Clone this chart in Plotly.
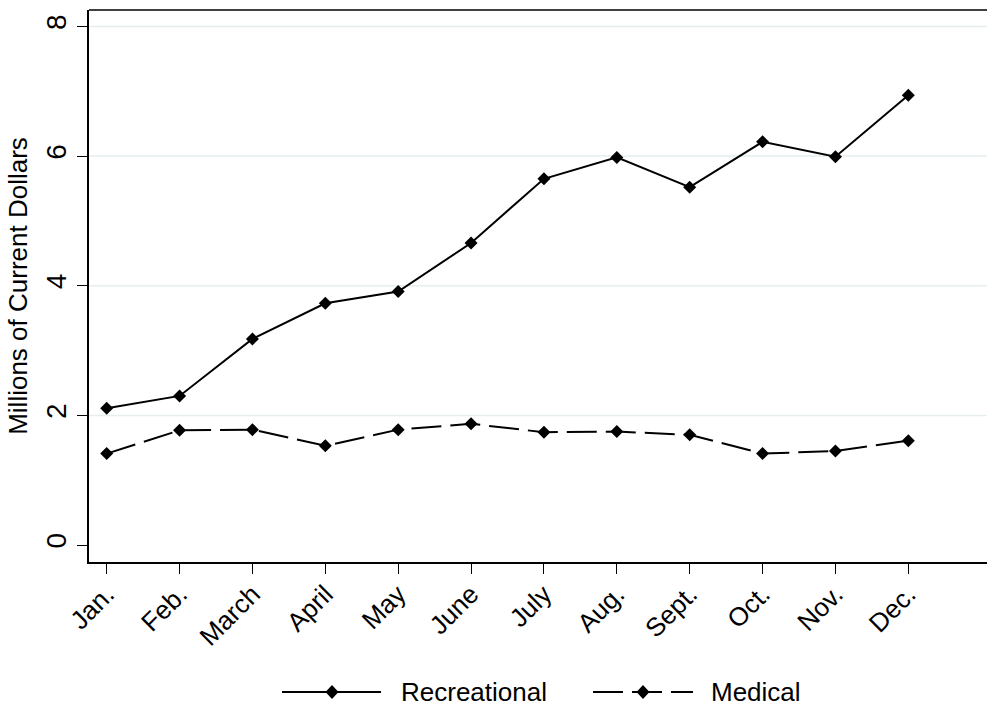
import plotly.graph_objects as go

months = ["Jan.", "Feb.", "March", "April", "May", "June", "July", "Aug.", "Sept.", "Oct.", "Nov.", "Dec."]
recreational = [2.11, 2.30, 3.18, 3.73, 3.91, 4.66, 5.65, 5.98, 5.52, 6.22, 5.99, 6.94]
medical = [1.41, 1.77, 1.78, 1.53, 1.78, 1.87, 1.74, 1.75, 1.70, 1.41, 1.45, 1.61]
y_ticks = [0, 2, 4, 6, 8]
y_grid = [2, 4, 6, 8]
series_names = ["Recreational", "Medical"]

FONT = "Liberation Sans, Arial, Helvetica, sans-serif"
W, H = 987, 707
L = 89
T = 9.5
BOTTOM_PX = 562
B = H - BOTTOM_PX
plot_w = W - L
plot_h = H - T - B

fig = go.Figure()
fig.add_trace(go.Scatter(
    x=months, y=recreational, name=series_names[0], mode="lines+markers",
    line=dict(color="black", width=2),
    marker=dict(symbol="diamond", size=10, color="black"),
    showlegend=False,
))
fig.add_trace(go.Scatter(
    x=months, y=medical, name=series_names[1], mode="lines+markers",
    line=dict(color="black", width=2, dash="30px,9px"),
    marker=dict(symbol="diamond", size=10, color="black"),
    showlegend=False,
))

shapes = []
for g in y_grid:
    shapes.append(dict(type="line", xref="paper", yref="y", x0=0, x1=1, y0=g, y1=g,
                       line=dict(color="#e6eef0", width=1.5), layer="below"))
# top border
shapes.append(dict(type="line", xref="paper", yref="paper", x0=0, x1=1, y0=1, y1=1,
                   line=dict(color="black", width=1.5)))

def px_x(px):
    return (px - L) / plot_w

def px_y(py):
    return (BOTTOM_PX - py) / plot_h

leg_y = 692
shapes.append(dict(type="line", xref="paper", yref="paper", x0=px_x(282), x1=px_x(381),
                   y0=px_y(leg_y), y1=px_y(leg_y), line=dict(color="black", width=2)))
shapes.append(dict(type="line", xref="paper", yref="paper", x0=px_x(593), x1=px_x(693),
                   y0=px_y(leg_y), y1=px_y(leg_y), line=dict(color="black", width=2, dash="30px,9px")))
for cx in (332, 643):
    shapes.append(dict(type="path", xref="paper", yref="paper", xsizemode="pixel", ysizemode="pixel",
                       xanchor=px_x(cx), yanchor=px_y(leg_y),
                       path="M 0,7 L 6.5,0 L 0,-7 L -6.5,0 Z",
                       fillcolor="black", line=dict(color="black", width=0)))

annotations = [
    dict(text=series_names[0], xref="paper", yref="paper", x=px_x(399), y=px_y(leg_y),
         xanchor="left", yanchor="middle", showarrow=False, font=dict(size=26, color="black", family=FONT)),
    dict(text=series_names[1], xref="paper", yref="paper", x=px_x(709), y=px_y(leg_y),
         xanchor="left", yanchor="middle", showarrow=False, font=dict(size=26, color="black", family=FONT)),
]

fig.update_layout(
    width=W, height=H,
    margin=dict(l=L, r=0, t=T, b=B, pad=0),
    paper_bgcolor="white", plot_bgcolor="white",
    font=dict(family=FONT, color="black", size=26),
    shapes=shapes, annotations=annotations,
    showlegend=False,
)
fig.update_xaxes(
    type="category", range=[-0.243, 12.08],
    showgrid=False, zeroline=False,
    showline=True, linecolor="black", linewidth=1.5,
    ticks="outside", ticklen=10, tickwidth=1.3, tickcolor="black",
    tickangle=-45, tickfont=dict(size=26), ticklabelstandoff=-5,
)
fig.update_yaxes(
    range=[-0.262, 8.254], tickvals=y_ticks,
    showgrid=False, zeroline=False,
    showline=True, linecolor="black", linewidth=1.5,
    ticks="outside", ticklen=10, tickwidth=1.3, tickcolor="black",
    tickangle=-90, tickfont=dict(size=28),
    title=dict(text="Millions of Current Dollars", font=dict(size=26), standoff=6),
)

fig.write_html(
    "out.html",
    config={"displayModeBar": False},
    post_script="document.body.style.margin='0';document.body.style.overflow='hidden';",
)
